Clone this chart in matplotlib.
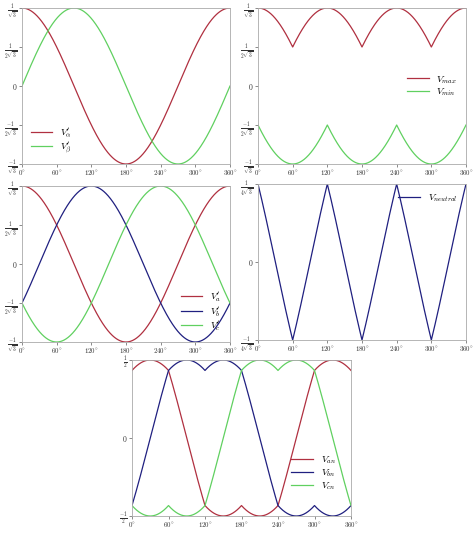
import numpy as np
import matplotlib
matplotlib.use("Agg")
import matplotlib.pyplot as plt

plt.rcParams['font.family'] = 'DejaVu Serif'
plt.rcParams['mathtext.fontset'] = 'cm'

# data definitions
theta_deg = np.linspace(0, 360, 721)
amp = 1/np.sqrt(3)
phase_abc = [0, 120, 240]           # Va', Vb', Vc' peaks
xticks = [0, 60, 120, 180, 240, 300, 360]
xticklabels = [r'$0^{\circ}$', r'$60^{\circ}$', r'$120^{\circ}$', r'$180^{\circ}$',
               r'$240^{\circ}$', r'$300^{\circ}$', r'$360^{\circ}$']
RED, GREEN, BLUE = '#b03040', '#60d060', '#202080'

th = np.radians(theta_deg)
v_alpha = amp*np.cos(th)
v_beta = amp*np.sin(th)
va = amp*np.cos(th - np.radians(phase_abc[0]))
vb = amp*np.cos(th - np.radians(phase_abc[1]))
vc = amp*np.cos(th - np.radians(phase_abc[2]))
vmax = np.maximum(np.maximum(va, vb), vc)
vmin = np.minimum(np.minimum(va, vb), vc)
vneu = (vmax + vmin)/2
van, vbn, vcn = va - vneu, vb - vneu, vc - vneu

fig = plt.figure(figsize=(4.74, 5.35), dpi=100)
W, H = 474, 535
def ax_at(l, r, t, b):
    return fig.add_axes([l/W, 1-b/H, (r-l)/W, (b-t)/H])

yt1 = [-amp, -amp/2, 0, amp/2, amp]
yl1 = [r'$\frac{-1}{\sqrt{3}}$', r'$\frac{-1}{2\sqrt{3}}$', r'$0$', r'$\frac{1}{2\sqrt{3}}$', r'$\frac{1}{\sqrt{3}}$']

def style(ax, yt, yl, ylim):
    ax.set_xlim(0, 360); ax.set_ylim(*ylim)
    ax.set_xticks(xticks); ax.set_xticklabels(xticklabels, fontsize=5)
    ax.set_yticks(yt); ax.set_yticklabels(yl, fontsize=5.5)
    ax.tick_params(length=2, width=0.4, pad=1, colors='#333333')
    for s in ax.spines.values():
        s.set_color('#aaaaaa'); s.set_linewidth(0.6)

def leg(ax, loc):
    ax.legend(loc=loc, fontsize=7, frameon=False, handlelength=2.2, labelspacing=0.1)

ax1 = ax_at(22, 230, 8, 164)
ax1.plot(theta_deg, v_alpha, color=RED, lw=0.9, label=r"$V_{\alpha}'$")
ax1.plot(theta_deg, v_beta, color=GREEN, lw=0.9, label=r"$V_{\beta}'$")
style(ax1, yt1, yl1, (-amp, amp)); leg(ax1, 'lower left')

ax2 = ax_at(258, 466, 8, 164)
ax2.plot(theta_deg, vmax, color=RED, lw=0.9, label=r"$V_{max}$")
ax2.plot(theta_deg, vmin, color=GREEN, lw=0.9, label=r"$V_{min}$")
style(ax2, yt1, yl1, (-amp, amp)); leg(ax2, 'center right')

ax3 = ax_at(22, 230, 186, 342)
ax3.plot(theta_deg, va, color=RED, lw=0.9, label=r"$V_{a}'$")
ax3.plot(theta_deg, vb, color=BLUE, lw=0.9, label=r"$V_{b}'$")
ax3.plot(theta_deg, vc, color=GREEN, lw=0.9, label=r"$V_{c}'$")
style(ax3, yt1, yl1, (-amp, amp)); leg(ax3, 'lower right')

ax4 = ax_at(258, 466, 184, 340)
ax4.plot(theta_deg, vneu, color=BLUE, lw=0.9, label=r"$V_{neutral}$")
style(ax4, [-amp/4, 0, amp/4], [r'$\frac{-1}{4\sqrt{3}}$', r'$0$', r'$\frac{1}{4\sqrt{3}}$'], (-amp/4, amp/4))
leg(ax4, 'upper right')

ax5 = ax_at(132, 351, 360, 516)
ax5.plot(theta_deg, van, color=RED, lw=0.9, label=r"$V_{an}$")
ax5.plot(theta_deg, vbn, color=BLUE, lw=0.9, label=r"$V_{bn}$")
ax5.plot(theta_deg, vcn, color=GREEN, lw=0.9, label=r"$V_{cn}$")
style(ax5, [-0.5, 0, 0.5], [r'$\frac{-1}{2}$', r'$0$', r'$\frac{1}{2}$'], (-0.5, 0.5))
ax5.legend(loc='lower right', bbox_to_anchor=(0.97, 0.1), fontsize=7, frameon=False,
           handlelength=2.2, labelspacing=0.1)

fig.savefig('out.png', dpi=100)
